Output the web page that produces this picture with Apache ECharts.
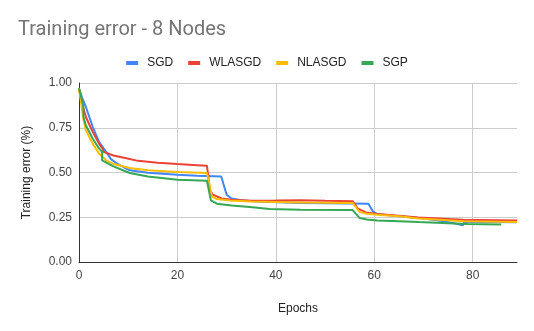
<!DOCTYPE html>
<html>
<head>
    <meta charset="utf-8" />
    <title>Training error - 8 Nodes</title>
    <script src="https://cdn.jsdelivr.net/npm/echarts@6/dist/echarts.min.js"></script>
    <style>
        html, body { margin: 0; padding: 0; background: #fff; }
        #chart { width: 534px; height: 331px; }
    </style>
</head>
<body>
    <div id="chart"></div>
<script>
    // [epoch, error] pairs
    var sgd = [[0,0.97],[0.6,0.92],[1.4,0.866],[2.8,0.754],[4.1,0.67],[5.5,0.615],[6.5,0.575],[8,0.545],[10.3,0.512],[14,0.498],[20,0.487],[24,0.482],[28.9,0.478],[30,0.376],[31,0.355],[33,0.345],[36,0.338],[45,0.33],[55,0.327],[58.8,0.325],[59.7,0.283],[60.6,0.268],[65,0.255],[70,0.243],[73,0.232],[76,0.218],[78,0.205],[78.3,0.225],[84,0.224],[89,0.222]];
    var wlasgd = [[0,0.97],[0.6,0.885],[1.4,0.81],[2.8,0.726],[4.1,0.66],[4.8,0.633],[5,0.615],[7,0.595],[9.6,0.58],[12,0.565],[16,0.555],[20,0.547],[24,0.541],[26,0.538],[26.6,0.40],[27.2,0.376],[29,0.355],[31,0.348],[35,0.342],[40,0.343],[45,0.345],[50,0.342],[55.6,0.34],[56.6,0.30],[58.3,0.277],[60.6,0.268],[65,0.258],[69,0.249],[74,0.242],[78,0.236],[89,0.232]];
    var nlasgd = [[0,0.97],[0.9,0.80],[1.4,0.735],[2.8,0.66],[4.1,0.605],[5.5,0.568],[7,0.548],[10.3,0.525],[14,0.513],[20,0.503],[26,0.497],[27,0.366],[28,0.352],[30.6,0.344],[35,0.338],[45,0.333],[55.6,0.33],[57,0.28],[58.5,0.27],[60.6,0.264],[65,0.255],[69,0.243],[74,0.235],[78,0.227],[89,0.223]];
    var sgp = [[0,0.97],[0.9,0.87],[0.9,0.81],[1.4,0.763],[2.8,0.689],[4.1,0.633],[4.7,0.615],[4.7,0.568],[7,0.534],[10.3,0.497],[14,0.478],[20,0.46],[26,0.454],[26.8,0.344],[28,0.326],[31,0.315],[34.7,0.307],[38.7,0.296],[45,0.292],[55.6,0.29],[57,0.246],[58.5,0.238],[60.6,0.232],[65,0.228],[69,0.223],[75,0.216],[79,0.212],[85.8,0.21]];

    var names = ['SGD', 'WLASGD', 'NLASGD', 'SGP'];
    var colors = ['#4285F4', '#EA4335', '#FBBC04', '#34A853'];
    var xTicks = [0, 20, 40, 60, 80];

    var myChart = echarts.init(document.getElementById('chart'));

    var option = {
        animation: false,
        color: colors,
        textStyle: { fontFamily: 'Arial, "Liberation Sans", sans-serif' },
        title: {
            text: 'Training error - 8 Nodes',
            left: 13,
            top: 15,
            textStyle: { color: '#757575', fontSize: 20, fontWeight: 'normal', fontFamily: 'Roboto, Arial, sans-serif' }
        },
        legend: {
            top: 52,
            left: 'center',
            itemWidth: 12,
            itemHeight: 4,
            itemGap: 15,
            icon: 'rect',
            textStyle: { color: '#222', fontSize: 12, padding: [0, 0, 0, 4], fontFamily: 'Arial, "Liberation Sans", sans-serif' },
            data: names
        },
        grid: { left: 79, right: 17, top: 83, bottom: 69 },
        xAxis: {
            type: 'value',
            min: 0,
            max: 89,
            interval: 20,
            name: 'Epochs',
            nameLocation: 'middle',
            nameGap: 41,
            nameTextStyle: { color: '#222', fontSize: 12 },
            axisLine: { lineStyle: { color: '#333' } },
            axisTick: { show: false, customValues: xTicks },
            axisLabel: { color: '#444', fontSize: 12, customValues: xTicks },
            splitLine: { show: true, lineStyle: { color: '#ccc' } }
        },
        yAxis: {
            type: 'value',
            min: 0,
            max: 1,
            interval: 0.25,
            name: 'Training error (%)',
            nameLocation: 'middle',
            nameGap: 46,
            nameTextStyle: { color: '#222', fontSize: 12 },
            axisLine: { show: true, lineStyle: { color: '#333' } },
            axisTick: { show: false },
            axisLabel: {
                color: '#444', fontSize: 12, margin: 7,
                formatter: function (v) { return v.toFixed(2); }
            },
            splitLine: { lineStyle: { color: '#ccc' } }
        },
        series: [
            { name: names[0], type: 'line', data: sgd, showSymbol: false, lineStyle: { width: 2 } },
            { name: names[1], type: 'line', data: wlasgd, showSymbol: false, lineStyle: { width: 2 } },
            { name: names[2], type: 'line', data: nlasgd, showSymbol: false, lineStyle: { width: 2 } },
            { name: names[3], type: 'line', data: sgp, showSymbol: false, lineStyle: { width: 2 } }
        ]
    };

    myChart.setOption(option);
</script>
</body>
</html>
